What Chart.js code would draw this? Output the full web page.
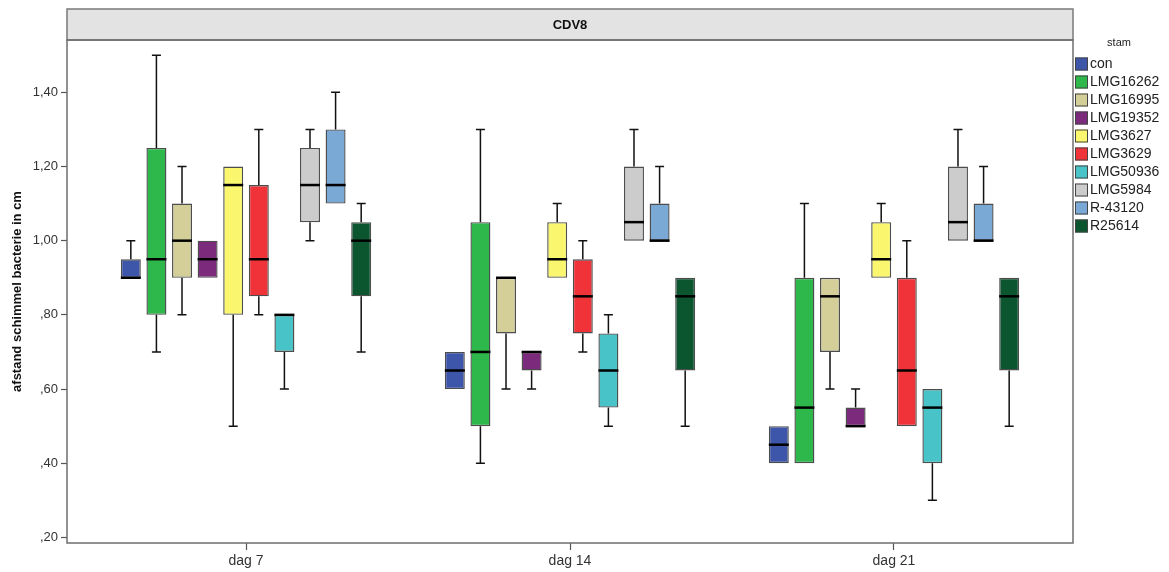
<!DOCTYPE html>
<html>
<head>
<meta charset="utf-8">
<script src="https://cdn.jsdelivr.net/npm/chart.js@4.4.1/dist/chart.umd.min.js"></script>
<style>
  html, body { margin: 0; padding: 0; background: #fff; }
  #wrap { width: 1169px; height: 572px; position: relative; }
</style>
</head>
<body>
<div id="wrap"><canvas id="chart"></canvas></div>
<script>
// categories
const days = ['dag 7', 'dag 14', 'dag 21'];
const strains = ['con', 'LMG16262', 'LMG16995', 'LMG19352', 'LMG3627', 'LMG3629', 'LMG50936', 'LMG5984', 'R-43120', 'R25614'];
const yTicks = [0.2, 0.4, 0.6, 0.8, 1.0, 1.2, 1.4];

// box stats per strain, one value per day (dag 7, dag 14, dag 21)
const whiskerLow = [
    [0.90, 0.60, 0.40], [0.70, 0.40, 0.40], [0.80, 0.60, 0.60], [0.90, 0.60, 0.50], [0.50, 0.90, 0.90],
    [0.80, 0.70, 0.50], [0.60, 0.50, 0.30], [1.00, 1.00, 1.00], [1.10, 1.00, 1.00], [0.70, 0.50, 0.50]
];
const q1 = [
    [0.90, 0.60, 0.40], [0.80, 0.50, 0.40], [0.90, 0.75, 0.70], [0.90, 0.65, 0.50], [0.80, 0.90, 0.90],
    [0.85, 0.75, 0.50], [0.70, 0.55, 0.40], [1.05, 1.00, 1.00], [1.10, 1.00, 1.00], [0.85, 0.65, 0.65]
];
const median = [
    [0.90, 0.65, 0.45], [0.95, 0.70, 0.55], [1.00, 0.90, 0.85], [0.95, 0.70, 0.50], [1.15, 0.95, 0.95],
    [0.95, 0.85, 0.65], [0.80, 0.65, 0.55], [1.15, 1.05, 1.05], [1.15, 1.00, 1.00], [1.00, 0.85, 0.85]
];
const q3 = [
    [0.95, 0.70, 0.50], [1.25, 1.05, 0.90], [1.10, 0.90, 0.90], [1.00, 0.70, 0.55], [1.20, 1.05, 1.05],
    [1.15, 0.95, 0.90], [0.80, 0.75, 0.60], [1.25, 1.20, 1.20], [1.30, 1.10, 1.10], [1.05, 0.90, 0.90]
];
const whiskerHigh = [
    [1.00, 0.70, 0.50], [1.50, 1.30, 1.10], [1.20, 0.90, 0.90], [1.00, 0.70, 0.60], [1.20, 1.10, 1.10],
    [1.30, 1.00, 1.00], [0.80, 0.80, 0.60], [1.30, 1.30, 1.30], [1.40, 1.20, 1.20], [1.10, 0.90, 0.90]
];

const colors = ['#3d56a9', '#2eb84b', '#d4cf98', '#7c2a7c', '#faf76f', '#ef3339', '#48c4c8', '#cccccc', '#7aa9d6', '#0b562f'];

Chart.defaults.font.family = '"Liberation Sans", Arial, sans-serif';

const fmtTick = v => {
    const s = v.toFixed(2).replace('.', ',');
    return s.startsWith('0') ? s.slice(1) : s;
};

// whiskers, caps and medians drawn from the y scale at each bar's position
const boxExtras = {
    id: 'boxExtras',
    afterDatasetsDraw(chart) {
        const ctx = chart.ctx;
        const y = chart.scales.y;
        chart.data.datasets.forEach((ds, i) => {
            chart.getDatasetMeta(i).data.forEach((bar, j) => {
                const x = bar.x, half = bar.width / 2, cap = 4.5;
                const yLo = y.getPixelForValue(whiskerLow[i][j]);
                const yQ1 = y.getPixelForValue(q1[i][j]);
                const yQ3 = y.getPixelForValue(q3[i][j]);
                const yHi = y.getPixelForValue(whiskerHigh[i][j]);
                const yMed = y.getPixelForValue(median[i][j]);
                ctx.save();
                ctx.strokeStyle = '#111';
                ctx.lineWidth = 1.5;
                if (whiskerHigh[i][j] > q3[i][j]) {
                    ctx.beginPath();
                    ctx.moveTo(x, yQ3); ctx.lineTo(x, yHi);
                    ctx.moveTo(x - cap, yHi); ctx.lineTo(x + cap, yHi);
                    ctx.stroke();
                }
                if (whiskerLow[i][j] < q1[i][j]) {
                    ctx.beginPath();
                    ctx.moveTo(x, yQ1); ctx.lineTo(x, yLo);
                    ctx.moveTo(x - cap, yLo); ctx.lineTo(x + cap, yLo);
                    ctx.stroke();
                }
                ctx.strokeStyle = '#000';
                ctx.lineWidth = 2.5;
                ctx.beginPath();
                ctx.moveTo(x - half, yMed); ctx.lineTo(x + half, yMed);
                ctx.stroke();
                ctx.restore();
            });
        });
    },
    afterDraw(chart) {
        const ctx = chart.ctx;
        const a = chart.chartArea;
        ctx.save();
        // panel header strip
        ctx.fillStyle = '#e3e3e3';
        ctx.fillRect(a.left, 9, a.right - a.left, a.top - 9);
        ctx.strokeStyle = '#7a7a7a';
        ctx.lineWidth = 1.5;
        ctx.strokeRect(a.left, 9, a.right - a.left, a.top - 9);
        ctx.fillStyle = '#111';
        ctx.font = 'bold 13px "Liberation Sans", Arial, sans-serif';
        ctx.textAlign = 'center';
        ctx.textBaseline = 'middle';
        ctx.fillText('CDV8', (a.left + a.right) / 2, 25);
        // plot frame
        ctx.strokeStyle = '#6e6e6e';
        ctx.lineWidth = 1.5;
        ctx.strokeRect(a.left, a.top, a.right - a.left, a.bottom - a.top);
        // legend
        ctx.fillStyle = '#222';
        ctx.font = '11px "Liberation Sans", Arial, sans-serif';
        ctx.fillText('stam', 1119, 43);
        ctx.textAlign = 'left';
        ctx.font = '14px "Liberation Sans", Arial, sans-serif';
        strains.forEach((s, i) => {
            const cy = 64 + i * 18;
            ctx.fillStyle = colors[i];
            ctx.fillRect(1075, cy - 6.5, 13, 13);
            ctx.strokeStyle = '#444';
            ctx.lineWidth = 1;
            ctx.strokeRect(1075.5, cy - 6, 12, 12);
            ctx.fillStyle = '#222';
            ctx.fillText(s, 1090, cy + 0.5);
        });
        ctx.restore();
    }
};

new Chart(document.getElementById('chart'), {
    type: 'bar',
    data: {
        datasets: strains.map((s, i) => ({
            label: s,
            data: days.map((d, j) => ({ x: j, y: [q1[i][j], q3[i][j]] })),
            backgroundColor: colors[i],
            borderColor: '#4d4d4d',
            borderWidth: 1.4,
            borderSkipped: false,
            categoryPercentage: 0.79,
            barPercentage: 0.78
        }))
    },
    options: {
        responsive: true,
        maintainAspectRatio: false,
        animation: false,
        layout: { padding: { top: 40, right: 96, left: 0, bottom: 0 } },
        plugins: {
            legend: { display: false },
            tooltip: { enabled: false }
        },
        scales: {
            x: {
                type: 'linear',
                min: -0.5525,
                max: 2.5525,
                offset: false,
                afterBuildTicks: scale => { scale.ticks = days.map((d, j) => ({ value: j })); },
                afterFit: scale => { scale.height = 29; },
                grid: { display: true, drawOnChartArea: false, offset: false, tickLength: 7, color: '#555', tickWidth: 1.2 },
                border: { display: false },
                ticks: {
                    padding: 3,
                    color: '#333',
                    font: { size: 14 },
                    maxRotation: 0,
                    callback: v => days[v]
                }
            },
            y: {
                min: 0.185,
                max: 1.541,
                afterBuildTicks: scale => { scale.ticks = yTicks.map(v => ({ value: v })); },
                afterFit: scale => { scale.width = 67; },
                grid: { display: true, drawOnChartArea: false, tickLength: 6, color: '#555', tickWidth: 1.2 },
                border: { display: false },
                ticks: {
                    padding: 3,
                    color: '#333',
                    font: { size: 13 },
                    callback: v => fmtTick(v)
                },
                title: {
                    display: true,
                    text: 'afstand schimmel bacterie in cm',
                    color: '#111',
                    font: { size: 13, weight: 'bold' },
                    padding: { top: 10, bottom: 0 }
                }
            }
        }
    },
    plugins: [boxExtras]
});
</script>
</body>
</html>
